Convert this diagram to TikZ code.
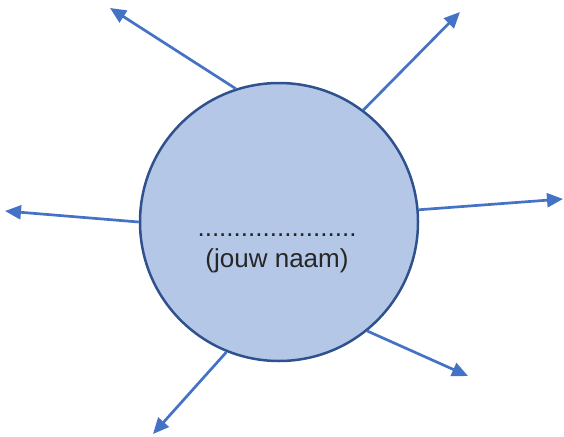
\documentclass[tikz,border=0pt]{standalone}
\usepackage{fontspec}
\setmainfont{Liberation Sans}
\usetikzlibrary{arrows.meta}
\definecolor{cfill}{HTML}{B4C7E7}
\definecolor{cborder}{HTML}{2F528F}
\definecolor{carrow}{HTML}{4472C4}
\begin{document}
\begin{tikzpicture}[x=1pt,y=-1pt,
  ray/.style={draw=carrow,line width=2.7pt,-{Triangle[length=16pt,width=14pt]}},
  lbl/.style={font=\fontsize{26}{30}\selectfont,text=black!85,anchor=base,inner sep=0pt}]
\useasboundingbox (0,0) rectangle (564,436);
\node[circle,draw=cborder,line width=2.5pt,fill=cfill,minimum size=278pt,inner sep=0pt] (c) at (279,222) {};
\node[lbl] (dots) at (277,236) {......................};
\node[lbl] (name) at (277,267) {(jouw naam)};
\coordinate (e1) at (110,8);
\coordinate (e2) at (460,12);
\coordinate (e3) at (5,211);
\coordinate (e4) at (563,199);
\coordinate (e5) at (468,376);
\coordinate (e6) at (153,434);
\draw[ray] (c.108) -- (e1);
\draw[ray] (c.53) -- (e2);
\draw[ray] (c.180) -- (e3);
\draw[ray] (c.5.6) -- (e4);
\draw[ray] (c.-51) -- (e5);
\draw[ray] (c.-112) -- (e6);
\end{tikzpicture}
\end{document}
